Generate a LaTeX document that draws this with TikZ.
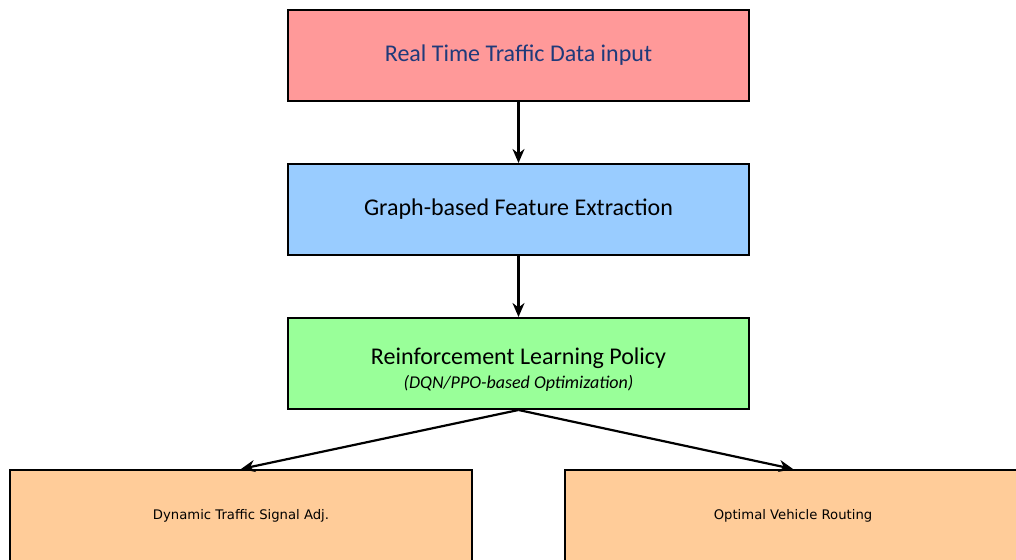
\documentclass[tikz,border=0pt]{standalone}
\usepackage{fontspec}
\setmainfont{Carlito}
\newfontfamily\dejavu{DejaVu Sans}
\usetikzlibrary{arrows.meta}
\definecolor{c1}{HTML}{FF9999}
\definecolor{c2}{HTML}{99CCFF}
\definecolor{c3}{HTML}{99FF99}
\definecolor{c4}{HTML}{FFCC99}
\definecolor{tblue}{HTML}{1F3A7A}

\tikzset{
    stagebox/.style={draw=black, line width=1pt, minimum width=230.5pt, minimum height=45.5pt, inner sep=0pt, font=\fontsize{12}{14}\selectfont},
    outbox/.style={draw=black, line width=1pt, minimum height=45.5pt, inner sep=0pt, font=\dejavu\fontsize{6.6}{8}\selectfont},
    flow/.style={-{Stealth[length=7pt, width=6pt]}, line width=1.1pt}
}

\begin{document}
\begin{tikzpicture}[x=0.5pt, y=0.5pt]
    \useasboundingbox (0, 0) rectangle (1016, 560);
    \node[stagebox, fill=c1, text=tblue] (input) at (518.5, 504.5) {Real Time Traffic Data input};
    \node[stagebox, fill=c2] (graph) at (518.5, 350.5) {Graph-based Feature Extraction};
    \node[stagebox, fill=c3, align=center] (policy) at (518.5, 196.5)
        {\rule{0pt}{14pt}Reinforcement Learning Policy\\[-2pt]{\fontsize{9}{10}\selectfont\itshape (DQN/PPO-based Optimization)}};
    \node[outbox, fill=c4, minimum width=231pt] (signal) at (241, 44.5) {Dynamic Traffic Signal Adj.};
    \node[outbox, fill=c4, minimum width=228pt] (routing) at (793, 44.5) {Optimal Vehicle Routing};

    \draw[flow] (input) -- (graph);
    \draw[flow] (graph) -- (policy);
    \draw[flow] (policy.south) -- (signal.north);
    \draw[flow] (policy.south) -- (routing.north);
\end{tikzpicture}
\end{document}
